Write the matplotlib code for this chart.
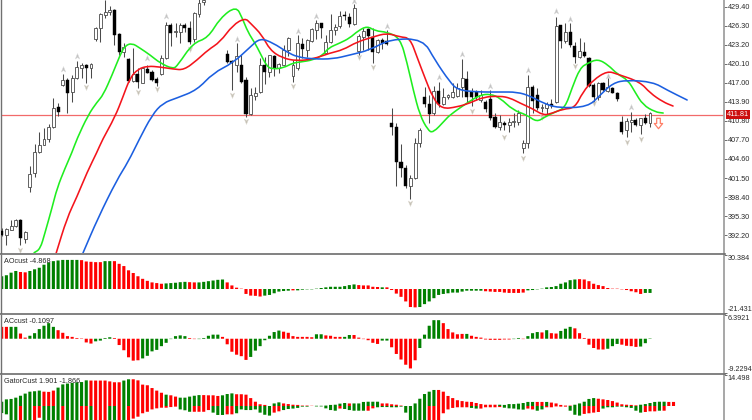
import numpy as np
import matplotlib
matplotlib.use("Agg")
import matplotlib.pyplot as plt
from matplotlib.path import Path
from matplotlib.patches import PathPatch

plt.rcParams['font.family'] = ['Liberation Sans', 'DejaVu Sans']
nan = float('nan')

# ---------- candles (price units) ----------
body_top = [392.9,393.2,393.7,394.7,394.7,392.7,402.2,405.7,406.9,407.8,
 409.8,412.9,413.0,417.4,417.4,417.8,419.6,419.9,419.9,420.0,
 425.9,428.2,428.5,428.8,428.8,424.9,422.8,420.9,418.4,418.4,
 419.4,419.2,418.7,417.6,421.0,426.4,426.4,425.4,426.4,426.4,
 425.9,428.3,430.0,430.5,nan,nan,nan,nan,421.7,420.5,
 421.4,419.9,417.4,415.0,415.3,419.9,419.9,421.5,421.4,420.0,
 422.3,424.3,419.9,423.5,423.3,424.0,425.7,426.7,426.7,423.6,
 425.6,426.1,427.9,428.0,427.7,429.2,424.6,425.4,425.7,424.4,
 424.0,424.0,423.8,410.4,409.8,404.1,403.1,401.5,407.2,409.3,
 414.7,413.5,415.7,415.7,414.7,415.0,415.5,416.1,417.8,417.6,
 415.5,415.5,415.0,413.9,414.4,411.4,410.6,410.4,410.6,410.8,
 412.1,407.2,416.3,416.3,415.0,413.0,413.5,413.5,426.2,426.4,
 425.3,425.3,423.0,422.2,422.0,421.0,416.6,417.0,417.0,416.3,
 416.1,415.3,410.6,410.8,410.9,410.9,411.3,411.3,412.1]
body_bot = [392.2,392.2,393.1,393.7,391.7,391.6,400.0,402.3,405.7,406.9,
 407.8,409.8,412.3,416.6,415.3,415.5,417.8,419.4,419.4,419.4,
 424.1,425.9,428.0,428.5,424.8,422.0,422.0,417.3,417.3,417.1,
 417.0,418.6,417.4,417.0,418.4,421.0,425.1,425.3,425.3,425.9,
 423.6,424.1,428.2,430.1,nan,nan,nan,nan,420.4,420.2,
 419.9,417.1,411.9,411.9,414.8,415.5,418.7,418.7,419.4,419.4,
 419.9,422.3,418.1,419.4,422.5,422.3,423.8,425.6,425.9,421.8,
 423.6,425.6,426.2,427.8,426.6,426.6,422.2,424.4,424.6,422.0,
 422.0,423.5,423.3,409.8,404.1,403.1,400.2,400.2,401.5,407.2,
 413.5,411.9,412.1,413.5,413.5,414.7,414.7,414.8,416.3,414.7,
 414.7,414.7,414.2,412.7,411.3,409.8,409.8,410.1,410.1,410.6,
 410.6,406.4,407.2,414.0,412.9,412.9,412.9,413.2,413.9,423.8,
 423.8,423.1,421.2,421.2,421.4,416.5,414.7,414.7,415.8,415.7,
 415.3,414.4,409.0,409.3,410.6,410.1,410.1,410.4,410.4]
highs = [393.4,393.4,394.7,394.8,394.8,392.9,403.5,407.0,409.0,409.6,
 410.3,414.5,413.7,418.4,417.8,418.3,420.5,420.2,420.0,420.2,
 426.1,428.3,430.5,429.5,429.0,425.1,423.5,421.0,422.7,419.4,
 419.6,419.9,419.1,417.9,421.5,426.9,426.7,426.7,426.7,426.7,
 427.0,428.5,431.0,431.1,nan,nan,nan,nan,422.3,420.7,
 423.5,421.5,417.9,416.1,416.3,421.0,421.2,421.5,421.5,420.2,
 423.1,424.4,420.7,424.8,424.3,424.1,425.9,427.2,426.7,424.8,
 428.2,426.6,428.7,428.7,428.3,429.8,424.9,425.9,425.9,425.9,
 424.1,424.3,425.6,412.9,410.4,407.0,403.6,402.0,408.0,409.6,
 416.3,415.0,416.5,417.1,416.1,415.2,417.0,417.0,420.9,418.9,
 416.1,415.8,415.8,414.2,415.8,412.1,411.7,410.8,411.3,412.1,
 412.6,407.7,418.3,416.6,416.1,413.5,413.9,414.4,427.7,426.4,
 426.7,426.7,423.6,424.3,423.6,421.2,417.0,417.1,417.1,417.8,
 416.3,415.5,411.6,411.3,412.2,411.3,411.3,411.9,412.2]
lows = [392.1,390.6,393.0,393.5,390.6,390.9,399.2,401.7,405.6,406.9,
 407.4,409.6,411.6,416.5,412.1,413.9,417.6,417.8,417.0,417.8,
 423.8,423.6,427.5,428.0,423.1,421.5,421.2,417.1,417.1,416.1,
 417.0,418.6,417.3,416.5,418.3,420.9,423.0,424.4,423.5,425.3,
 423.3,423.6,427.7,429.6,nan,nan,nan,nan,420.2,415.8,
 418.7,417.0,411.4,411.8,414.2,415.3,416.8,417.9,418.1,418.6,
 419.9,421.4,417.1,419.1,421.0,421.2,423.6,424.1,424.3,421.8,
 423.5,424.8,425.9,427.2,426.1,426.4,421.5,422.3,422.3,420.2,
 421.8,422.5,423.1,408.5,400.2,401.7,399.9,398.1,401.3,406.5,
 413.1,410.5,411.8,413.1,413.4,414.4,414.5,414.7,414.7,413.7,
 413.2,414.2,413.9,412.2,410.9,409.6,409.3,409.3,409.0,409.8,
 410.1,405.6,406.4,412.1,412.6,412.2,411.8,412.9,413.7,422.7,
 423.5,422.8,420.2,421.0,421.2,416.3,413.4,414.2,415.7,415.5,
 415.3,414.0,408.7,408.2,409.0,410.0,408.7,410.3,409.8]
falling = [0,4,12,14,18,24,25,27,29,31,32,33,36,39,40,48,49,51,52,56,58,64,68,73,74,
           78,79,81,82,83,84,85,86,90,91,93,99,100,101,103,104,105,107,113,114,117,
           119,121,122,124,125,126,128,130,131,132,135,137]

# ---------- moving averages (bar position, price) ----------
green_bars = [6.9,8.2,9.2,10.7,11.8,13.5,15.0,16.0,18.4,20.3,21.6,23.5,25.2,26.2,27.7,29.4,31.6,33.7,36.5,37.5,40.7,43.9,46.5,49.9,51.2,52.4,53.9,55.0,56.5,57.8,59.9,62.0,63.5,66.3,68.4,69.5,72.0,74.1,75.8,77.8,79.5,82.0,84.8,86.3,87.6,89.0,90.7,91.8,94.4,95.4,99.0,101.8,104.0,106.1,108.8,111.8,113.9,115.6,117.8,119.9,121.4,123.1,124.8,126.9,129.1,131.0,133.3,134.8,136.5,139.1,140.8]
green_vals = [389.35,389.95,392.55,396.62,399.87,403.13,405.73,407.85,411.75,413.86,415.0,418.26,421.51,422.98,423.46,422.65,421.51,420.21,419.23,419.88,423.46,424.28,427.53,429.48,427.53,425.25,423.46,421.84,419.56,419.23,419.4,420.21,420.37,420.7,421.51,422.65,423.46,424.28,425.42,426.23,425.42,425.25,424.28,420.21,415.82,411.75,409.31,408.82,410.94,411.75,413.7,415.0,415.17,414.52,412.56,411.75,410.61,411.42,412.24,412.89,416.14,419.4,420.21,420.86,419.88,418.42,417.44,415.49,413.38,412.24,412.07]
red_bars = [11.6,13.9,16.0,18.2,20.3,21.4,24.1,25.8,27.3,29.0,31.1,33.7,36.5,38.8,41.6,43.9,46.5,49.2,51.8,52.9,55.4,57.1,59.7,62.9,66.3,69.9,72.6,75.6,79.0,82.0,84.8,86.9,88.4,90.1,91.8,93.7,96.9,99.7,102.5,106.1,108.2,110.3,113.1,115.2,116.7,119.5,122.0,123.7,125.9,128.9,131.0,135.9,138.0,140.8,142.9]
red_vals = [389.3,395.0,398.41,402.48,405.73,407.68,411.42,414.68,417.77,419.23,419.72,419.56,419.23,419.07,420.7,422.33,423.63,426.39,427.53,426.72,424.77,422.33,421.02,420.54,420.86,421.84,422.33,423.63,424.44,425.09,424.44,424.28,421.19,417.77,414.52,412.73,413.05,413.7,414.68,414.84,414.52,413.7,412.73,411.75,411.91,412.73,412.89,415.49,417.44,418.91,418.42,417.12,415.33,413.86,413.21]
blue_bars = [17.3,20.5,24.5,26.9,29.2,32.0,34.3,37.3,41.6,45.0,49.2,52.9,55.0,57.8,60.7,62.9,66.3,70.5,74.1,78.4,82.7,89.7,92.2,95.4,97.1,101.2,106.1,109.7,112.5,115.2,118.4,124.8,127.4,130.1,133.1,138.6,141.6,145.9]
blue_vals = [389.3,395.0,401.17,404.1,407.68,411.75,413.7,414.52,415.82,418.58,420.21,422.81,424.28,423.46,422.0,421.19,420.86,420.86,421.51,422.33,424.11,424.11,420.7,417.12,415.82,415.49,415.49,415.49,414.84,413.7,412.89,413.05,415.0,416.96,417.44,417.12,415.82,414.19]

# ---------- fractal arrows ----------
up_bars = [13,16,31,35,50,63,67,75,82,93,98,104,112,118,121,129,134]
up_vals = [419.23,421.35,421.02,427.86,424.11,425.42,427.86,430.3,426.23,417.93,421.67,416.47,419.07,428.67,427.37,418.09,413.05]
down_bars = [4,18,29,33,40,49,52,62,76,79,100,87,107,111,133,136,126,122,115]
down_vals = [389.79,416.3,415.49,415.98,422.49,415.0,410.77,416.47,421.19,419.56,412.4,397.43,408.17,404.75,407.36,407.85,413.7,419.72,411.42]

# ---------- oscillators ----------
ao_vals = [11.4,12.3,14.6,16.1,15.2,14.9,16.1,17.6,19.0,21.7,
 23.7,24.9,25.5,26.0,26.0,26.0,26.0,25.8,24.6,24.3,
 24.0,24.0,24.9,24.9,24.9,22.5,20.5,16.7,14.3,11.4,
 9.1,7.3,5.9,5.3,4.7,5.0,5.3,5.6,6.1,6.4,
 6.1,5.9,5.9,6.4,7.0,7.6,8.2,8.5,5.9,3.2,
 1.2,0.3,-4.4,-5.9,-6.1,-6.7,-5.9,-5.3,-3.8,-2.3,
 -1.8,-1.5,-1.2,-1.2,-0.6,-0.3,-0.3,0.3,0.9,1.5,
 2.0,2.0,2.0,2.6,3.5,4.1,3.5,3.2,3.2,2.0,
 1.8,1.5,1.5,-0.9,-4.1,-7.0,-11.1,-16.1,-16.4,-16.1,
 -13.5,-11.1,-8.2,-5.3,-4.4,-3.8,-3.2,-3.2,-2.3,-1.5,
 -1.5,-1.5,-1.5,-2.0,-2.3,-2.6,-2.6,-3.2,-3.5,-3.5,
 -3.5,-3.2,-1.2,-0.9,-0.3,0.3,1.5,1.8,2.6,4.7,
 5.9,7.9,8.5,8.8,8.5,7.0,4.7,3.5,2.6,0.9,
 0.3,0.3,-0.3,-0.9,-2.0,-2.9,-4.4,-3.5,-3.5]
ao_colors = ('G'*4+'R'*2+'G'*11+'R'*5+'G'*2+'R'*11+'G'*5+'R'*2+'G'*6+'R'*5+'R'*3+'G'*6+'R'+'G'*13
             +'R'*5+'G'+'R'*7+'G'*14+'R'*9+'G'*11+'R'*14+'G'*2)
ac_vals = [3.2,3.2,3.2,3.2,1.4,0.3,0.8,1.5,2.6,3.5,
 4.2,3.2,2.3,1.6,0.7,0.5,0.2,0.1,-1.0,-1.3,
 -0.7,-0.5,0.2,0.4,0.2,-1.7,-3.1,-5.0,-5.9,-5.8,
 -5.3,-4.6,-3.4,-3.0,-2.0,-1.1,-0.1,0.7,0.9,0.7,
 0.2,-0.1,-0.1,0.2,0.8,1.1,1.1,0.5,-1.5,-3.5,
 -4.3,-4.7,-5.7,-4.9,-3.2,-2.0,-0.4,0.8,1.8,2.2,
 1.9,1.6,0.7,0.5,0.5,0.5,0.4,1.2,1.2,0.9,
 0.8,0.5,0.5,0.5,1.0,1.0,0.3,-0.1,-0.4,-1.1,
 -1.4,-0.5,-0.5,-2.3,-4.1,-5.6,-7.0,-8.0,-5.8,-2.5,
 1.1,3.5,5.0,5.0,4.2,2.6,1.7,1.2,1.3,1.3,
 0.8,0.5,0.3,-0.2,-0.3,-0.3,-0.3,-0.2,-0.2,-0.1,
 0.2,-0.1,0.7,1.5,1.8,1.7,2.3,1.5,1.4,2.1,
 2.7,3.2,2.8,1.5,0.2,-1.6,-2.5,-2.9,-2.9,-2.7,
 -2.0,-1.4,-1.6,-1.9,-2.0,-2.2,-2.1,-1.2,0.1]
ac_colors = ('RRGGRR'+'G'*6+'R'*8+'G'*4+'R'*6+'G'*10+'R'*2+'G'*5+'R'*6+'G'*7+'R'*7+'G'*2+'R'*4+'G'*2
             +'R'*6+'G'*2+'R'*6+'G'*5+'R'*5+'G'+'R'*7+'RRGGRGGGRGRRGGG'+'R'*7+'GGG'+'R'*4+'GGG')
gator_up = [2.0,3.1,3.3,3.9,4.8,5.8,6.7,6.9,7.2,6.7,
 6.6,7.2,8.6,10.1,10.5,10.8,11.1,11.2,12.0,11.9,
 11.9,11.9,11.9,11.5,11.1,11.1,11.9,12.5,12.5,12.0,
 10.0,9.7,8.4,7.2,6.2,5.3,5.0,4.4,3.9,3.9,
 4.4,4.8,5.1,5.1,5.0,5.0,4.7,5.0,5.6,5.9,
 5.5,5.5,5.3,3.7,2.0,0.8,0.5,0.0,1.2,1.7,
 1.2,0.9,0.6,0.5,0.2,0.2,0.1,0.1,0.1,0.2,
 0.5,0.6,1.1,1.4,1.2,1.2,1.2,1.9,2.0,2.0,
 2.0,1.2,1.2,0.8,0.6,0.2,0.0,0.0,1.2,3.4,
 5.6,6.7,7.5,7.5,6.7,4.7,3.7,2.7,2.3,2.0,
 1.9,1.4,0.9,0.6,0.6,0.6,0.6,0.5,0.9,0.9,
 1.1,1.4,1.9,1.9,1.9,1.9,1.9,1.6,1.2,0.5,
 0.2,0.2,0.6,1.2,2.0,3.3,3.7,3.4,3.1,2.8,
 2.3,1.6,0.8,0.6,0.5,0.3,0.6,0.9,1.4,1.9,
 2.0,2.0,1.9,1.9]
gator_up_colors = ('G'*9+'R'*3+'G'*7+'R'*7+'G'*2+'R'*7+'G'+'R'*2+'G'*5+'R'*4+'G'*3+'R'*4+'R'*3+'G'*3+'R'*7
                   +'G'*7+'R'+'G'*6+'R'*5+'G'*7+'R'*13+'G'*8+'R'*2+'G'+'R'*5+'G'*5+'R'*9+'G'*6+'R'*2)
gator_low = [-3.3,-3.9,-7.5,-7.5,-7.5,-7.5,-7.5,-7.5,-5.5,-7.5,
 -7.5,-7.5,-7.5,-7.5,-7.5,-7.5,-7.5,-7.5,-7.5,-7.5,
 -7.5,-7.5,-7.5,-7.5,-7.5,-7.5,-7.5,-7.5,-5.9,-5.0,
 -3.4,-2.7,-1.6,-1.1,-0.8,-0.8,-0.5,-0.3,-1.6,-2.0,
 -2.7,-2.7,-2.7,-2.7,-1.9,-3.1,-4.2,-4.2,-3.9,-3.9,
 -3.4,-1.6,-1.9,-1.9,-1.6,-3.1,-4.1,-4.5,-3.1,-2.5,
 -1.9,-1.4,-1.2,-0.9,-0.3,-0.3,0.0,-0.2,-0.2,-1.1,
 -1.9,-2.2,-1.2,-1.4,-1.9,-2.2,-2.2,-2.2,-2.2,-1.1,
 -0.6,-0.5,-0.5,-0.6,-0.6,-0.3,-3.1,-7.5,-7.5,-7.5,
 -7.5,-7.5,-7.5,-7.5,-3.4,-1.6,-0.9,-0.6,-0.6,-0.6,
 -0.9,-1.2,-1.2,-0.6,-0.6,-0.6,-0.5,-0.8,-1.1,-1.2,
 -1.6,-1.7,-1.2,-1.6,-2.2,-1.6,-0.6,-0.6,-0.2,-0.3,
 -0.3,-2.2,-4.1,-4.5,-3.7,-3.4,-3.1,-2.8,-1.2,-0.6,
 -0.6,-0.3,-0.3,-0.6,-0.9,-2.2,-3.1,-2.8,-2.5,-2.5,
 -2.2,-2.2,0.0,0.0]
gator_low_colors = ('G'*4+'R'+'G'*2+'R'*2+'G'*4+'R'+'G'*3+'R'*2+'G'+'R'*3+'G'*2+'R'+'G'+'R'+'R'*10+'G'*3+'R'*4
                    +'G'*3+'R'*2+'G'*8+'R'*2+'G'*12+'R'+'G'*5+'R'*2+'G'*11+'R'*9+'G'*2+'R'*5+'G'*5+'R'*2
                    +'G'*2+'R'*5+'G'*3+'R'*4+'G'*9+'R'*3+'G'+'R'+'G'*2)

price_ticks = [429.40,426.30,423.20,420.10,417.00,413.90,410.80,407.70,404.60,401.50,398.40,395.30,392.20]
current_price = 411.81

# ---------- layout ----------
W, H = 752, 420
AX_L, AX_R = 1, 724
STEP = 4.698
X0 = 1.7
xlim = ((AX_L - X0) / STEP, (AX_R - X0) / STEP)
GREEN, RED = '#008000', '#ff0000'
TXT = '#2a2a2a'
FS = 5.2

fig = plt.figure(figsize=(W / 100, H / 100), dpi=100, facecolor='white')


def panel(y0, y1, lo, hi):
    ax = fig.add_axes([AX_L / W, 1 - y1 / H, (AX_R - AX_L) / W, (y1 - y0) / H])
    ax.set_xlim(*xlim)
    ax.set_ylim(lo, hi)
    ax.set_xticks([])
    ax.yaxis.tick_right()
    ax.tick_params(axis='y', length=2.2, width=0.6, color='#555555', labelsize=FS,
                   labelcolor=TXT, pad=0.6)
    for s in ('top', 'bottom'):
        ax.spines[s].set_visible(False)
    ax.spines['left'].set_color('#707070')
    ax.spines['left'].set_linewidth(1.0)
    ax.spines['right'].set_color('#a0a0a0')
    ax.spines['right'].set_linewidth(1.3)
    return ax


def smooth_line(axm, xs, ys, color):
    """Curve through the midpoints of the read points, using them as controls."""
    pts = np.column_stack([xs, ys])
    mids = (pts[:-1] + pts[1:]) / 2
    verts = [pts[0], mids[0]]
    codes = [Path.MOVETO, Path.LINETO]
    for p, m in zip(pts[1:-1], mids[1:]):
        verts += [p, m]
        codes += [Path.CURVE3, Path.CURVE3]
    verts.append(pts[-1])
    codes.append(Path.LINETO)
    axm.add_patch(PathPatch(Path(verts, codes), fill=False, edgecolor=color, lw=1.15,
                            zorder=5, capstyle='round'))


# main price panel
ax = panel(0, 253, 389.3, 430.46)
ax.set_yticks(price_ticks)
ax.set_yticklabels([f'{t:.2f}' for t in price_ticks])

idx = np.arange(len(body_top))
kinds = np.array([i in falling for i in idx])
ax.vlines(idx, lows, highs, color='#4a4a4a', lw=0.75, zorder=2)
top = np.array(body_top)
bot = np.array(body_bot)
ax.bar(idx[~kinds], (top - bot)[~kinds], bottom=bot[~kinds], width=0.62, facecolor='white',
       edgecolor='#4a4a4a', lw=0.6, zorder=3)
ax.bar(idx[kinds], (top - bot)[kinds], bottom=bot[kinds], width=0.66, facecolor='black',
       edgecolor='black', lw=0.3, zorder=3)

up_path = Path([(0, 1), (0.75, -0.85), (0, -0.35), (-0.75, -0.85), (0, 1)], closed=True)
down_path = Path([(0, -1), (0.75, 0.85), (0, 0.35), (-0.75, 0.85), (0, -1)], closed=True)
ax.plot(up_bars, up_vals, ls='none', marker=up_path, ms=4.3, mfc='#c4c4c4', mec='#dcdcdc', mew=0.3, zorder=4)
ax.plot(down_bars, down_vals, ls='none', marker=down_path, ms=4.3, mfc='#c6c2b6', mec='#dedad2', mew=0.3, zorder=4)

ax.axhline(current_price, color='#f26a6a', lw=0.9, zorder=1)
smooth_line(ax, green_bars, green_vals, '#1fee1f')
smooth_line(ax, red_bars, red_vals, '#f4141c')
smooth_line(ax, blue_bars, blue_vals, '#1c5fe0')

arrow_path = Path([(-0.35, 1), (0.35, 1), (0.35, 0), (0.8, 0), (0, -1), (-0.8, 0), (-0.35, 0), (-0.35, 1)], closed=True)
ax.plot([139.7], [410.45], ls='none', marker=arrow_path, ms=7.5, mfc='white', mec='#ff8068', mew=0.9, zorder=6)

ax.annotate(f'{current_price:.2f}', xy=(1, current_price), xycoords=('axes fraction', 'data'),
            xytext=(2.1, 0), textcoords='offset points', va='center', ha='left', color='white',
            fontsize=FS, zorder=10, annotation_clip=False,
            bbox=dict(boxstyle='square,pad=0.18', fc='#cc0f0f', ec='none'))


def histogram(axh, vals, colors):
    x = np.arange(len(vals))
    cols = [GREEN if c == 'G' else RED for c in colors]
    for patch in axh.bar(x, vals, width=0.66, color=cols, lw=0):
        patch.set_snap(False)


def end_ticks(axh, top_v, bottom_v=None):
    ticks = [top_v] + ([bottom_v] if bottom_v is not None else [])
    axh.set_yticks(ticks)
    axh.set_yticklabels([str(t) for t in ticks])
    labels = axh.get_yticklabels()
    labels[0].set_va('top')
    if len(labels) > 1:
        labels[1].set_va('bottom')


def panel_label(axh, text):
    axh.annotate(text, xy=(0, 1), xycoords='axes fraction', xytext=(2, -2.5),
                 textcoords='offset points', va='top', fontsize=FS, color=TXT)


# AO
ax2 = panel(255, 313, -21.431, 30.384)
histogram(ax2, ao_vals, ao_colors)
end_ticks(ax2, 30.384, -21.431)
panel_label(ax2, 'AOcust -4.868')

# AC
ax3 = panel(315, 373, -9.2294, 6.3921)
histogram(ax3, ac_vals, ac_colors)
end_ticks(ax3, 6.3921, -9.2294)
panel_label(ax3, 'ACcust -0.1097')

# Gator
ax4 = panel(375, 420, -6.55, 14.498)
histogram(ax4, gator_up, gator_up_colors)
histogram(ax4, gator_low, gator_low_colors)
end_ticks(ax4, 14.498)
panel_label(ax4, 'GatorCust 1.901 -1.866')

for y in (254, 314, 374):
    fig.add_artist(plt.Line2D([0, (AX_R + 1) / W], [1 - y / H] * 2, color='#6c6c6c', lw=1.2))

fig.savefig('out.png', dpi=100, facecolor='white')
